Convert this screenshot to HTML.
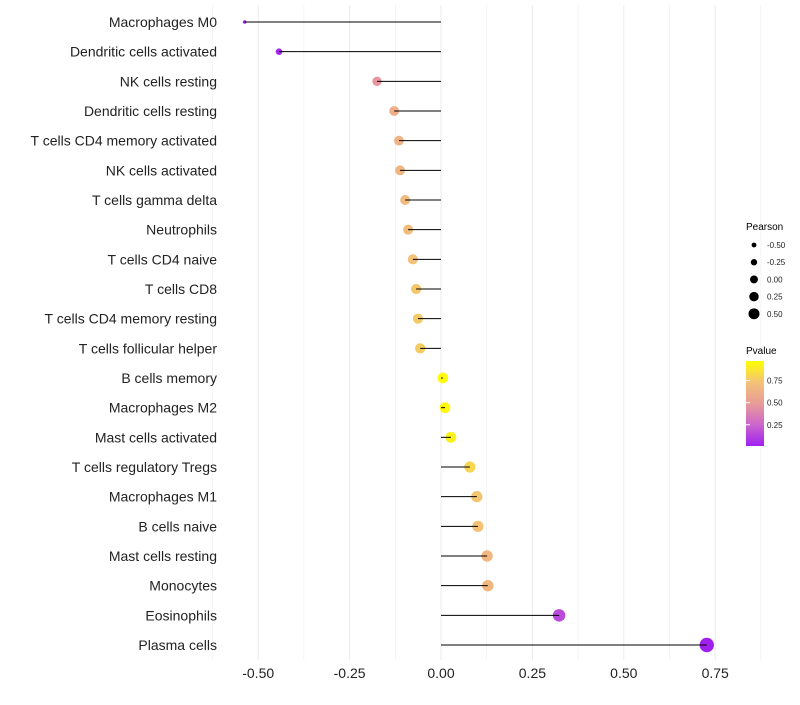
<!DOCTYPE html>
<html><head><meta charset="utf-8"><style>
body{margin:0;background:#fff;}
svg{font-family:"Liberation Sans",sans-serif;}
</style></head><body>
<svg id="chart" width="800" height="700">
<defs><linearGradient id="pg" x1="0" y1="1" x2="0" y2="0">
<stop offset="0" stop-color="#a020f0"/><stop offset="0.25" stop-color="#cc66cc"/><stop offset="0.5" stop-color="#e89c98"/><stop offset="0.75" stop-color="#f3c277"/><stop offset="1" stop-color="#ffff00"/></linearGradient></defs>
<g id="grid"></g><g id="marks"></g><g id="labels"></g>
<g>
<text x="746" y="230" font-size="10">Pearson</text>
<g id="sizeleg"></g>
<text x="746" y="354" font-size="10">Pvalue</text>
<rect x="746" y="361" width="18" height="85" fill="url(#pg)"/>
<g id="colleg"></g>
</g>
</svg>
<script>
const categories=["Macrophages M0","Dendritic cells activated","NK cells resting","Dendritic cells resting","T cells CD4 memory activated","NK cells activated","T cells gamma delta","Neutrophils","T cells CD4 naive","T cells CD8","T cells CD4 memory resting","T cells follicular helper","B cells memory","Macrophages M2","Mast cells activated","T cells regulatory  Tregs ","Macrophages M1","B cells naive","Mast cells resting","Monocytes","Eosinophils","Plasma cells"];
const pearson=[-0.537,-0.443,-0.175,-0.128,-0.115,-0.112,-0.098,-0.09,-0.077,-0.068,-0.063,-0.057,0.005,0.011,0.027,0.079,0.098,0.101,0.126,0.128,0.323,0.727];
const pvalues=[0.01,0.03,0.47,0.62,0.66,0.67,0.7,0.72,0.75,0.77,0.78,0.79,0.98,0.97,0.94,0.83,0.76,0.75,0.68,0.68,0.15,0.001];
const xTicks=[-0.5,-0.25,0,0.25,0.5,0.75];
const sizeLegend=[-0.5,-0.25,0,0.25,0.5];
const colorTicks=[0.75,0.5,0.25];
const NS="http://www.w3.org/2000/svg";
const xs=v=>441+v*365.6;
const ys=i=>22+i*29.667;
const rs=v=>1.8+5.4*Math.sqrt(Math.max(0,(v+0.537)/1.264));
const rl=v=>4.3+v*3.6;
const cy=p=>446-(p-0.01)*(85/0.96);
function lerp(a,b,t){return Math.round(a+(b-a)*t);}
const stops=[[0,[160,32,240]],[0.25,[204,102,204]],[0.5,[232,156,152]],[0.75,[243,194,119]],[1,[255,255,0]]];
function col(p){for(let k=1;k<stops.length;k++){if(p<=stops[k][0]){const a=stops[k-1],b=stops[k];const t=(p-a[0])/(b[0]-a[0]);return `rgb(${lerp(a[1][0],b[1][0],t)},${lerp(a[1][1],b[1][1],t)},${lerp(a[1][2],b[1][2],t)})`;}}return "rgb(255,255,0)";}
function mk(tag,at,parent){const e=document.createElementNS(NS,tag);for(const k in at)e.setAttribute(k,at[k]);document.getElementById(parent).appendChild(e);return e;}
for(let v=-0.625;v<=0.875;v+=0.125){const l=mk('line',{x1:xs(v),x2:xs(v),y1:5,y2:660,stroke:'#ebebeb','stroke-width':(Math.round(v*8)%2===0)?1:0.5},'grid');

}
xTicks.forEach(v=>{const t=mk('text',{x:xs(v),y:678,'font-size':14,'text-anchor':'middle',fill:'#222'},'labels');t.textContent=v.toFixed(2);

});
categories.forEach((c,i)=>{
const t=mk('text',{x:217,y:ys(i)+5,'font-size':14,'text-anchor':'end',fill:'#222'},'labels');t.textContent=c;


const d=mk('circle',{cx:xs(pearson[i]),cy:ys(i),r:rs(pearson[i]),fill:col(pvalues[i])},'marks');


const l=mk('line',{x1:xs(0),x2:xs(pearson[i]),y1:ys(i),y2:ys(i),stroke:'#000','stroke-width':1},'marks');


});
sizeLegend.forEach((v,k)=>{const y=245+k*17.2;
const c=mk('circle',{cx:754,cy:y,r:rl(v)*0.85+0.3,fill:'#000'},'sizeleg');


const t=mk('text',{x:767,y:y+3,'font-size':8,fill:'#222'},'sizeleg');t.textContent=v.toFixed(2);

});
colorTicks.forEach(v=>{const y=cy(v);
const t=mk('text',{x:767,y:y+3,'font-size':8,fill:'#222'},'colleg');t.textContent=v.toFixed(2);


const l=mk('line',{x1:746,x2:750,y1:y,y2:y,stroke:'#fff'},'colleg');

});
</script>
</body></html>
